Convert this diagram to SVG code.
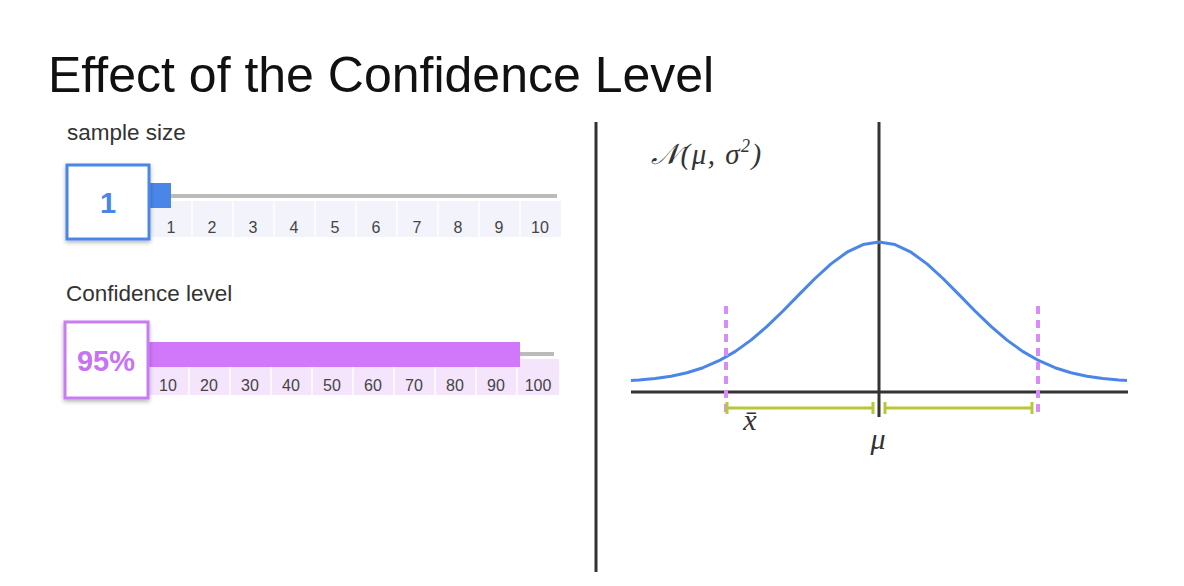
<svg xmlns="http://www.w3.org/2000/svg" width="1184" height="586" viewBox="0 0 1184 586">
<style>
.sans{font-family:"Liberation Sans",Arial,sans-serif}
.tick{font-family:"Liberation Sans",Arial,sans-serif;font-size:16px;fill:#444;text-anchor:middle}
.lbl{font-family:"Liberation Sans",Arial,sans-serif;font-size:22.5px;fill:#333}
.math{font-family:"Liberation Serif","DejaVu Serif",serif;font-style:italic;fill:#333}
.axis{stroke:#333;stroke-width:3;fill:none}
.ci{stroke:#b8c63a;stroke-width:3;fill:none}
.dash{stroke:#d98cf7;stroke-width:4;stroke-dasharray:8 6;fill:none}
</style>
<defs>
<filter id="sh" x="-20%" y="-20%" width="140%" height="140%">
<feDropShadow dx="0" dy="2" stdDeviation="2" flood-color="#000" flood-opacity="0.3"/>
</filter>
</defs>
<rect width="1184" height="586" fill="#fff"/>
<text x="48" y="92" class="sans" font-size="50" fill="#111">Effect of the Confidence Level</text>

<g id="sample-size">
<text x="67" y="140" class="lbl">sample size</text>
<rect x="151" y="201" width="410" height="36" fill="#f3f3fb"/>
<g stroke="#fff" stroke-width="1.5">
<line x1="192" y1="201" x2="192" y2="237"/><line x1="233" y1="201" x2="233" y2="237"/><line x1="274" y1="201" x2="274" y2="237"/><line x1="315" y1="201" x2="315" y2="237"/><line x1="356" y1="201" x2="356" y2="237"/><line x1="397" y1="201" x2="397" y2="237"/><line x1="438" y1="201" x2="438" y2="237"/><line x1="479" y1="201" x2="479" y2="237"/><line x1="520" y1="201" x2="520" y2="237"/>
</g>
<rect x="170" y="194" width="387" height="4" fill="#bbb"/>
<rect x="150" y="183" width="21" height="25" fill="#4a86e8"/>
<g class="tick">
<text x="171" y="233">1</text><text x="212" y="233">2</text><text x="253" y="233">3</text><text x="294" y="233">4</text><text x="335" y="233">5</text><text x="376" y="233">6</text><text x="417" y="233">7</text><text x="458" y="233">8</text><text x="499" y="233">9</text><text x="540" y="233">10</text>
</g>
<rect x="67" y="165" width="82" height="74" fill="#fff" stroke="#4a86e8" stroke-width="3" filter="url(#sh)"/>
<text x="108" y="213" class="sans" font-size="29" font-weight="bold" fill="#4a86e8" text-anchor="middle">1</text>
</g>

<g id="confidence-level">
<text x="66" y="301" class="lbl">Confidence level</text>
<rect x="148" y="366" width="411" height="29" fill="#f4e4fc"/>
<rect x="519" y="359" width="40" height="8" fill="#f4e4fc"/>
<g stroke="#fff" stroke-width="1.5">
<line x1="189" y1="366" x2="189" y2="395"/><line x1="230" y1="366" x2="230" y2="395"/><line x1="271" y1="366" x2="271" y2="395"/><line x1="312" y1="366" x2="312" y2="395"/><line x1="353" y1="366" x2="353" y2="395"/><line x1="394" y1="366" x2="394" y2="395"/><line x1="435" y1="366" x2="435" y2="395"/><line x1="476" y1="366" x2="476" y2="395"/><line x1="517" y1="366" x2="517" y2="395"/>
</g>
<rect x="519" y="352" width="35" height="4" fill="#bbb"/>
<rect x="147" y="342" width="373" height="25" fill="#d177f9"/>
<g class="tick">
<text x="168" y="391">10</text><text x="209" y="391">20</text><text x="250" y="391">30</text><text x="291" y="391">40</text><text x="332" y="391">50</text><text x="373" y="391">60</text><text x="414" y="391">70</text><text x="455" y="391">80</text><text x="496" y="391">90</text><text x="538" y="391">100</text>
</g>
<rect x="65" y="322" width="83" height="76" fill="#fff" stroke="#c77cf2" stroke-width="3" filter="url(#sh)"/>
<text x="106" y="371" class="sans" font-size="29" font-weight="bold" fill="#c873f3" text-anchor="middle">95%</text>
</g>

<line x1="596" y1="122" x2="596" y2="572" stroke="#333" stroke-width="3"/>

<g id="normal-plot">
<text x="651" y="164" class="math" font-size="29" letter-spacing="1.5">𝒩(μ, σ<tspan font-size="18" dy="-12">2</tspan><tspan dy="12">)</tspan></text>
<line class="axis" x1="631" y1="392" x2="1128" y2="392"/>
<line class="axis" x1="879" y1="122" x2="879" y2="417"/>
<polyline fill="none" stroke="#4a86e8" stroke-width="3" stroke-linejoin="round" points="631,380.5 639,380.0 655,378.5 671,376.2 687,372.7 703,367.7 719,360.7 735,351.6 751,340.1 767,326.4 783,311.0 799,294.6 815,278.5 831,263.9 847,252.2 863,244.6 879,242 895,244.6 911,252.2 927,263.9 943,278.5 959,294.6 975,311.0 991,326.4 1007,340.1 1023,351.6 1039,360.7 1055,367.7 1071,372.7 1087,376.2 1103,378.5 1119,380.0 1127,380.5"/>
<line class="dash" x1="726" y1="306" x2="726" y2="416"/>
<line class="dash" x1="1038" y1="306" x2="1038" y2="416"/>
<line class="ci" x1="727" y1="408" x2="873" y2="408"/>
<line class="ci" x1="727" y1="402" x2="727" y2="414"/>
<line class="ci" x1="873" y1="402" x2="873" y2="414"/>
<line class="ci" x1="885" y1="408" x2="1032" y2="408"/>
<line class="ci" x1="885" y1="402" x2="885" y2="414"/>
<line class="ci" x1="1032" y1="402" x2="1032" y2="414"/>
<text x="750" y="430" class="math" font-size="30" text-anchor="middle">x̄</text>
<text x="878" y="449" class="math" font-size="30" text-anchor="middle">μ</text>
</g>
</svg>
